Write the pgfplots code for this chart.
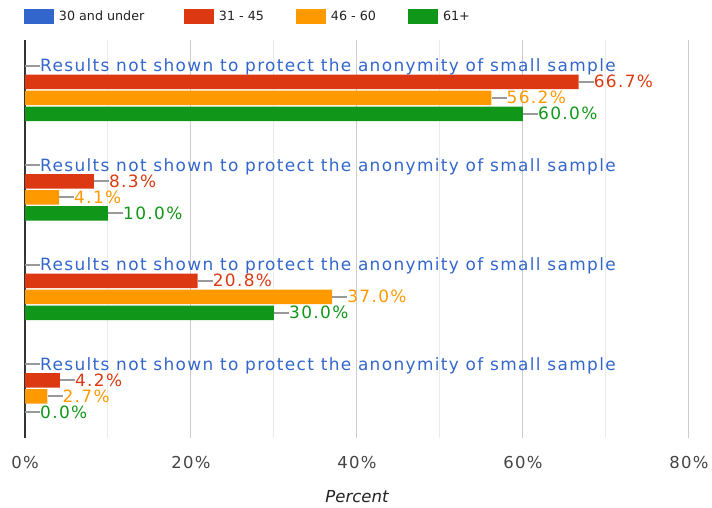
\documentclass[border=0pt]{standalone}
\usepackage{pgfplots}
\pgfplotsset{compat=1.18}
\usepackage{fontspec}
\setmainfont{DejaVu Sans}
\newfontfamily\lblfont[LetterSpace=8]{DejaVu Sans}
\definecolor{cblue}{HTML}{3366CC}
\definecolor{cred}{HTML}{DC3912}
\definecolor{corange}{HTML}{FF9900}
\definecolor{cgreen}{HTML}{109618}
\definecolor{leadgray}{HTML}{999999}
\definecolor{majgrid}{HTML}{CCCCCC}
\definecolor{mingrid}{HTML}{EBEBEB}
\definecolor{ticktext}{HTML}{444444}
\definecolor{darktext}{HTML}{222222}
\newcommand\leader{\textcolor{leadgray}{\rule[5.4bp]{15bp}{1.6bp}}}
\newcommand\pctlabel{\leader\pgfmathprintnumber[fixed,fixed zerofill,precision=1]{\pgfplotspointmeta}\%}
\begin{document}
\begin{tikzpicture}
\path[use as bounding box] (-25bp,-70bp) rectangle (687bp,438bp);
\begin{axis}[
  at={(0,0)}, anchor=south west,
  scale only axis, width=664bp, height=398bp,
  xbar, bar width=14.5bp,
  xmin=0, xmax=80, ymin=-0.5, ymax=3.5,
  ytick=\empty,
  xtick={0,20,40,60,80},
  minor x tick num=1,
  major tick length=0pt, minor tick length=0pt,
  xmajorgrids, xminorgrids,
  major grid style={draw=majgrid, line width=1bp},
  minor grid style={draw=mingrid, line width=1bp},
  axis y line*=left, axis x line*=bottom,
  x axis line style={draw=none},
  y axis line style={-, draw=black!80, line width=1.5bp},
  /pgf/number format/assume math mode=true,
  xticklabel={\pgfmathprintnumber{\tick}\%},
  xticklabel style={anchor=base, inner sep=0pt, yshift=-30bp, text=ticktext, font=\lblfont\fontsize{16.5}{20}\selectfont},
  xlabel={\itshape Percent},
  xlabel style={at={(axis description cs:0.5,0)}, anchor=base, inner sep=0pt, yshift=-64bp, text=darktext, font=\fontsize{16.6}{20}\selectfont},
  nodes near coords,
  point meta=x,
  every node near coord/.append style={anchor=base west, inner sep=0pt, yshift=-6.2bp, font=\lblfont\fontsize{17}{20}\selectfont},
  legend columns=4,
  legend image code/.code={\fill[#1,draw=none] (0bp,-7.5bp) rectangle (30bp,7.5bp);},
  legend style={at={(axis description cs:0,1)}, anchor=west, xshift=-1bp, yshift=23.5bp,
    draw=none, fill=none, inner sep=0pt, outer sep=0pt, column sep=0pt,
    nodes={inner sep=0pt, text=darktext, font=\fontsize{12.75}{14}\selectfont}},
]
\addplot[fill=cblue, draw=none, bar shift=24bp,
  nodes near coords={\leader Results not shown to protect the anonymity of small sample},
  every node near coord/.append style={text=cblue}]
  coordinates {(0,3) (0,2) (0,1) (0,0)};
\addlegendentry{\makebox[130bp][l]{\hspace{5bp}30 and under}}
\addplot[fill=cred, draw=none, bar shift=8bp,
  nodes near coords={\pctlabel},
  every node near coord/.append style={text=cred}]
  coordinates {(66.7,3) (8.3,2) (20.8,1) (4.2,0)};
\addlegendentry{\makebox[82bp][l]{\hspace{5bp}31 - 45}}
\addplot[fill=corange, draw=none, bar shift=-8bp,
  nodes near coords={\pctlabel},
  every node near coord/.append style={text=corange}]
  coordinates {(56.2,3) (4.1,2) (37.0,1) (2.7,0)};
\addlegendentry{\makebox[82bp][l]{\hspace{5bp}46 - 60}}
\addplot[fill=cgreen, draw=none, bar shift=-24bp,
  nodes near coords={\pctlabel},
  every node near coord/.append style={text=cgreen}]
  coordinates {(60.0,3) (10.0,2) (30.0,1) (0.0,0)};
\addlegendentry{\hspace{5bp}61+}
\end{axis}
\end{tikzpicture}
\end{document}
